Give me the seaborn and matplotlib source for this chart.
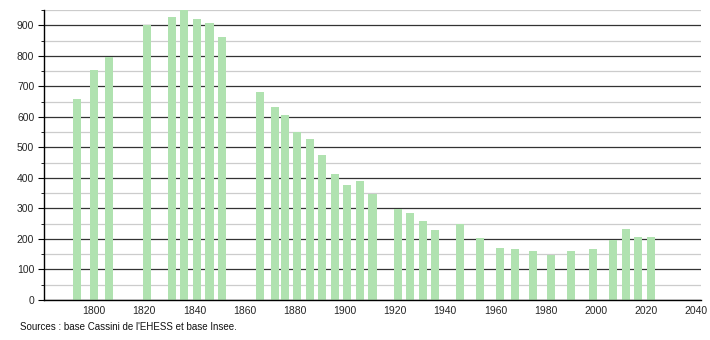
import matplotlib
matplotlib.use("Agg")
import matplotlib.pyplot as plt
import seaborn as sns
import pandas as pd
from matplotlib.ticker import MultipleLocator

years = [1793, 1800, 1806, 1821, 1831, 1836, 1841, 1846, 1851, 1866, 1872, 1876,
         1881, 1886, 1891, 1896, 1901, 1906, 1911, 1921, 1926, 1931, 1936, 1946,
         1954, 1962, 1968, 1975, 1982, 1990, 1999, 2007, 2012, 2017, 2022]
population = [660, 752, 795, 902, 926, 950, 920, 907, 863, 682, 633, 607,
              551, 528, 476, 414, 378, 390, 347, 298, 285, 260, 230, 250,
              204, 171, 168, 161, 146, 159, 168, 197, 232, 207, 207]
x_ticks = [1800, 1820, 1840, 1860, 1880, 1900, 1920, 1940, 1960, 1980, 2000, 2020, 2040]
y_ticks = [0, 100, 200, 300, 400, 500, 600, 700, 800, 900]
source_text = "Sources : base Cassini de l'EHESS et base Insee."

df = pd.DataFrame({"year": years, "pop": population})

sns.set_style("white")
plt.rcParams['font.family'] = ['Liberation Sans', 'DejaVu Sans']

fig = plt.figure(figsize=(7.1, 3.4), dpi=100)
ax = fig.add_axes([44/710, 1 - 300/340, (701 - 44)/710, 290/340])

sns.barplot(data=df, x="year", y="pop", native_scale=True, width=0.8,
            color="#b0e2b0", saturation=1, linewidth=0, ax=ax, zorder=3)

ax.set_xlim(1780, 2042)
ax.set_ylim(0, 950)
ax.set_xticks(x_ticks)
ax.set_yticks(y_ticks)
ax.yaxis.set_minor_locator(MultipleLocator(50))
ax.grid(False)
ax.set_axisbelow(True)
ax.yaxis.grid(True, which="major", color="#333333", linewidth=0.9, zorder=0)
ax.yaxis.grid(True, which="minor", color="#cccccc", linewidth=0.9, zorder=0)
for s in ["top", "right"]:
    ax.spines[s].set_visible(False)
for s in ["left", "bottom"]:
    ax.spines[s].set_color("black")
    ax.spines[s].set_linewidth(1.0)
    ax.spines[s].set_zorder(4)
ax.tick_params(axis="y", which="major", left=True, length=4, color="black",
               labelsize=7.5, pad=3)
ax.tick_params(axis="y", which="minor", left=True, length=2.5, color="black")
ax.tick_params(axis="x", bottom=False, labelsize=7.5, pad=1)
ax.set_xlabel("")
ax.set_ylabel("")

fig.text(20/710, 1 - 327/340, source_text, fontsize=7, va="center", ha="left",
         color="#111111")

fig.savefig("out.png", dpi=100)
